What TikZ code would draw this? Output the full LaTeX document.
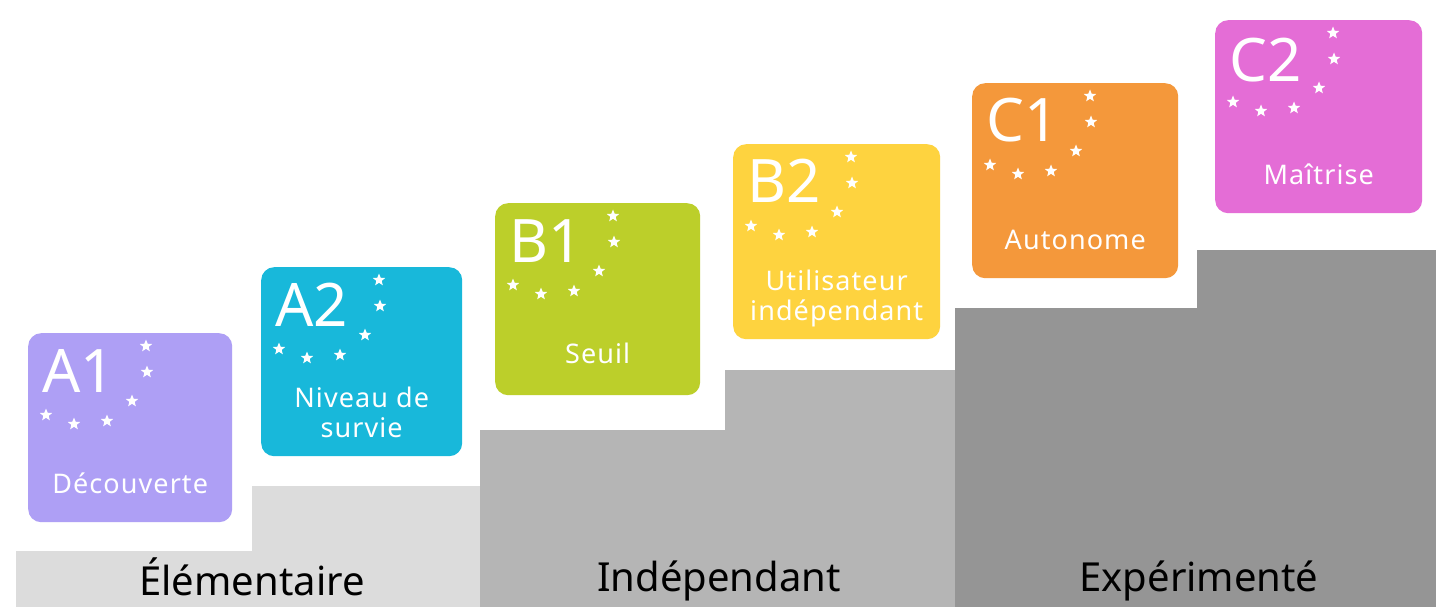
\documentclass[tikz,border=0pt]{standalone}
\usepackage{fontspec}
\setmainfont{Noto Sans}
\usetikzlibrary{shapes.geometric,calc}
\definecolor{cA1}{HTML}{AE9FF5}
\definecolor{cA2}{HTML}{18B8DA}
\definecolor{cB1}{HTML}{BCCF2A}
\definecolor{cB2}{HTML}{FED33F}
\definecolor{cC1}{HTML}{F4983B}
\definecolor{cC2}{HTML}{E46DD6}
\definecolor{gL}{HTML}{DCDCDC}
\definecolor{gM}{HTML}{B5B5B5}
\definecolor{gD}{HTML}{959595}
\newcommand\levelstars[1]{%
  \foreach \sx/\sy [count=\k] in {118/13,119/39,104/68,79/88,46/91,18/82}
    \node[starnode] (#1s\k) at ($(#1.north west)+(\sx,\sy)$) {};}
\begin{document}
\begin{tikzpicture}[x=1pt,y=-1pt,
  lvlbox/.style={rounded corners=13pt, inner sep=0pt, draw=none, anchor=north west},
  starnode/.style={star, star points=5, star point ratio=2.3, minimum size=13pt, inner sep=0pt, fill=white, draw=none},
  code/.style={text=white, font=\fontsize{60}{60}\selectfont, anchor=base west, inner sep=0pt},
  sub/.style={text=white, font=\addfontfeatures{LetterSpace=4}\fontsize{27}{30}\selectfont, anchor=base, inner sep=0pt, align=center},
  cat/.style={text=black, font=\fontsize{40}{40}\selectfont, anchor=base, inner sep=0pt}]
\useasboundingbox (0,0) rectangle (1436,607);
\fill[white] (0,0) rectangle (1436,607);
% steps
\fill[gL] (16,551) -- (252,551) -- (252,486) -- (480,486) -- (480,607) -- (16,607) -- cycle;
\fill[gM] (480,430) -- (725,430) -- (725,370) -- (955,370) -- (955,607) -- (480,607) -- cycle;
\fill[gD] (955,308) -- (1197,308) -- (1197,250) -- (1436,250) -- (1436,607) -- (955,607) -- cycle;
\node[cat] (elem) at (252,595) {Élémentaire};
\node[cat] (inde) at (719,591) {Indépendant};
\node[cat] (expe) at (1199,591) {Expérimenté};
% boxes
\node[lvlbox, fill=cA1, minimum width=204pt, minimum height=189pt] (a1) at (28,333) {};
\node[lvlbox, fill=cA2, minimum width=201pt, minimum height=189pt] (a2) at (261,267) {};
\node[lvlbox, fill=cB1, minimum width=205pt, minimum height=192pt] (b1) at (495,203) {};
\node[lvlbox, fill=cB2, minimum width=207pt, minimum height=195pt] (b2) at (733,144) {};
\node[lvlbox, fill=cC1, minimum width=206pt, minimum height=195pt] (c1) at (972,83) {};
\node[lvlbox, fill=cC2, minimum width=207pt, minimum height=193pt] (c2) at (1215,20) {};
% codes
\node[code] (a1c) at ($(a1.north west)+(14,59)$) {A1};
\node[code] (a2c) at ($(a2.north west)+(14,59)$) {A2};
\node[code] (b1c) at ($(b1.north west)+(14,59)$) {B1};
\node[code] (b2c) at ($(b2.north west)+(14,59)$) {B2};
\node[code] (c1c) at ($(c1.north west)+(14,59)$) {C1};
\node[code] (c2c) at ($(c2.north west)+(14,62)$) {C2};
% stars
\levelstars{a1}\levelstars{a2}\levelstars{b1}\levelstars{b2}\levelstars{c1}\levelstars{c2}
% sublabels
\node[sub] (a1t) at ($(a1.north)+(0,160)$) {Découverte};
\node[sub] (a2t) at ($(a2.north)+(0,170)$) {Niveau de\\survie};
\node[sub] (b1t) at ($(b1.north)+(0,160)$) {Seuil};
\node[sub] (b2t) at ($(b2.north)+(0,176)$) {Utilisateur\\indépendant};
\node[sub] (c1t) at ($(c1.north)+(0,166)$) {Autonome};
\node[sub] (c2t) at ($(c2.north)+(0,165)$) {Maîtrise};
\end{tikzpicture}
\end{document}
